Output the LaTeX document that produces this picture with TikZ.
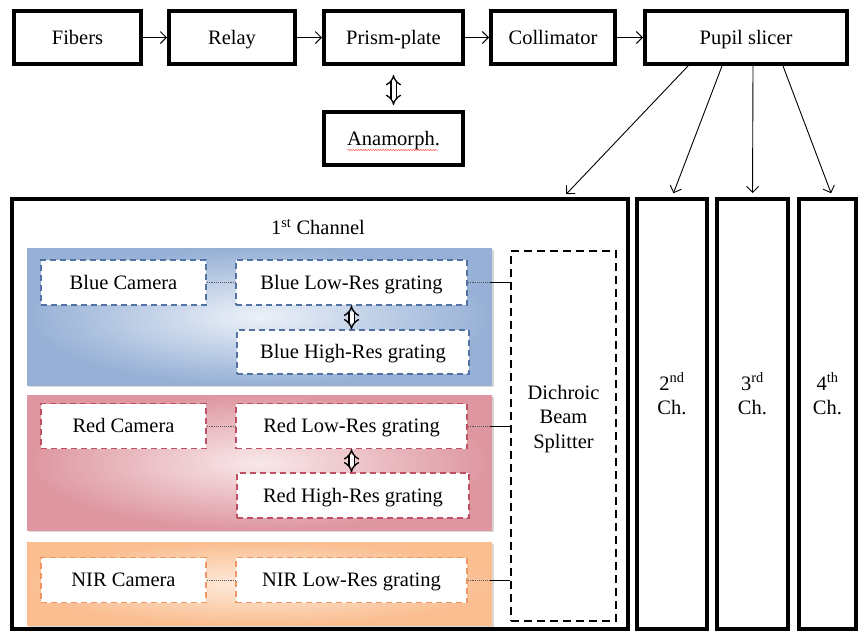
\documentclass[tikz,border=0pt]{standalone}
\usepackage{fontspec}
\setmainfont{Liberation Serif}
\usetikzlibrary{positioning,arrows.meta,shadows,decorations.pathmorphing}
\definecolor{blueD}{RGB}{150,176,214}
\definecolor{blueL}{RGB}{236,241,248}
\definecolor{blueE}{RGB}{84,115,165}
\definecolor{redD}{RGB}{222,150,160}
\definecolor{redL}{RGB}{248,232,234}
\definecolor{redE}{RGB}{190,80,100}
\definecolor{nirD}{RGB}{250,190,145}
\definecolor{nirL}{RGB}{254,236,222}
\definecolor{nirE}{RGB}{238,150,100}

\begin{document}
\begin{tikzpicture}[x=1pt, y=-1pt,
	every node/.style={font=\fontsize{20.5}{24.5}\selectfont, inner sep=0pt},
	txt/.style={text height=15pt, text depth=1.5pt},
	block/.style={draw, txt, line width=4pt, minimum height=53pt},
	chbox/.style={draw, line width=4pt, minimum height=430pt},
	band/.style={minimum width=465pt, drop shadow={shadow xshift=1.5pt, shadow yshift=-1.5pt, opacity=.3}},
	part/.style={draw=#1, txt, fill=white, line width=1.4pt, dash pattern=on 6pt off 4pt, minimum height=45pt},
	flow/.style={-{Straight Barb[length=6pt,width=12pt]}, line width=0.9pt},
	swap/.style={double, double distance=4pt, line width=1.3pt, {Implies}-{Implies}},
	link/.style={densely dotted, line width=0.9pt, gray!70!black}]
	\useasboundingbox (0,0) rectangle (861,633);
	% optical train
	\node[block, minimum width=127pt] (fibers) at (77.5,37.5) {Fibers};
	\node[block, minimum width=126pt, right=24pt of fibers] (relay) {Relay};
	\node[block, minimum width=139pt, right=25pt of relay] (prism) {Prism-plate};
	\node[block, minimum width=124pt, right=24pt of prism] (colli) {Collimator};
	\node[block, minimum width=202pt, right=26pt of colli] (pupil) {Pupil slicer};
	\node[block, minimum width=139pt, below=44pt of prism] (anam) {Anamorph.};
	\draw[red!75, line width=0.5pt, decorate, decoration={snake, amplitude=0.5pt, segment length=2.5pt}] ([xshift=-46pt,yshift=-11.5pt]anam.center) -- ([xshift=44pt,yshift=-11.5pt]anam.center);
	\draw[flow] (fibers) -- (relay);
	\draw[flow] (relay) -- (prism);
	\draw[flow] (prism) -- (colli);
	\draw[flow] (colli) -- (pupil);
	\draw[swap, shorten <=9pt, shorten >=5pt] (prism) -- (anam);
	% channels
	\node[chbox, minimum width=616pt] (ch1) at (320,414) {};
	\node[chbox, minimum width=70pt, label={[align=center, yshift=20pt]center:{2\textsuperscript{nd}\\Ch.}}] (ch2) at (672,414) {};
	\node[chbox, minimum width=71pt, label={[align=center, yshift=20pt]center:{3\textsuperscript{rd}\\Ch.}}] (ch3) at (752.5,414) {};
	\node[chbox, minimum width=57pt, label={[align=center, yshift=20pt]center:{4\textsuperscript{th}\\Ch.}}] (ch4) at (827.5,414) {};
	\node[txt] (ch1name) at (318,228) {1\textsuperscript{st} Channel};
	\node[draw, line width=2pt, dash pattern=on 8pt off 5pt, minimum width=105pt, minimum height=370pt, label={[align=center, yshift=17pt]center:{Dichroic\\Beam\\Splitter}}] (dich) at (563.5,436) {};
	\draw[flow, shorten >=4pt] ([xshift=-58pt]pupil.south) -- (dich |- ch1.north);
	\draw[flow, shorten >=4pt] ([xshift=-24pt]pupil.south) -- (ch2.north);
	\draw[flow, shorten >=4pt] ([xshift=7pt]pupil.south) -- (ch3.north);
	\draw[flow, shorten >=4pt] ([xshift=37pt]pupil.south) -- ([xshift=5pt]ch4.north);
	% blue arm
	\node[band, minimum height=137pt, inner color=blueL, outer color=blueD] (blueband) at (259.5,316.5) {};
	\node[part=blueE, minimum width=165pt] (bluecam) at (123.5,282.5) {Blue Camera};
	\node[part=blueE, minimum width=231pt] (bluelow) at (351.5,282.5) {Blue Low-Res grating};
	\node[part=blueE, minimum width=232pt, minimum height=44pt] (bluehigh) at (353,352) {Blue High-Res grating};
	\draw[link] (bluecam) -- (bluelow);
	\draw[link] (bluelow.east) -- ++(22,0) coordinate (bluejoin);
	\draw[line width=0.9pt] (bluejoin) -- (bluejoin -| dich.west);
	\draw[swap] (bluelow) -- (bluelow |- bluehigh.north);
	% red arm
	\node[band, minimum height=135pt, inner color=redL, outer color=redD] (redband) at (259.5,462.5) {};
	\node[part=redE, minimum width=165pt] (redcam) at (123.5,426) {Red Camera};
	\node[part=redE, minimum width=231pt] (redlow) at (351.5,426) {Red Low-Res grating};
	\node[part=redE, minimum width=232pt] (redhigh) at (353,495.5) {Red High-Res grating};
	\draw[link] (redcam) -- (redlow);
	\draw[link] (redlow.east) -- ++(22,0) coordinate (redjoin);
	\draw[line width=0.9pt] (redjoin) -- (redjoin -| dich.west);
	\draw[swap] (redlow) -- (redlow |- redhigh.north);
	% NIR arm
	\node[band, minimum height=83pt, inner color=nirL, outer color=nirD] (nirband) at (259.5,583.5) {};
	\node[part=nirE, minimum width=165pt] (nircam) at (123.5,580) {NIR Camera};
	\node[part=nirE, minimum width=231pt] (nirlow) at (351.5,580) {NIR Low-Res grating};
	\draw[link] (nircam) -- (nirlow);
	\draw[link] (nirlow.east) -- ++(22,0) coordinate (nirjoin);
	\draw[line width=0.9pt] (nirjoin) -- (nirjoin -| dich.west);
\end{tikzpicture}
\end{document}
